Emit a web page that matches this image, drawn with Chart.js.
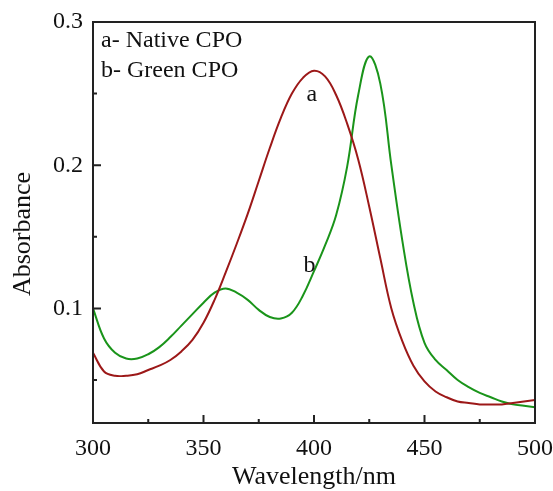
<!DOCTYPE html>
<html>
<head>
<meta charset="utf-8">
<script src="https://cdn.jsdelivr.net/npm/chart.js@4"></script>
<style>
  body { margin: 0; background: #fff; }
  #wrap { width: 553px; height: 491px; }
</style>
</head>
<body>
<div id="wrap"><canvas id="mygraph" width="553" height="491"></canvas></div>
<script>
// wavelength (nm), every 5 nm
let wavelength = [300,305,310,315,320,325,330,335,340,345,350,355,360,365,370,375,380,385,390,395,
                  400,405,410,415,420,425,430,435,440,445,450,455,460,465,470,475,480,485,490,495,500];
// a- Native CPO
let nativeCPO = [0.069,0.056,0.053,0.053,0.054,0.057,0.060,0.064,0.070,0.078,0.090,0.106,0.125,0.145,0.166,0.189,0.212,0.233,0.250,0.261,
                 0.266,0.262,0.249,0.229,0.204,0.171,0.135,0.100,0.077,0.060,0.049,0.042,0.038,0.035,0.034,0.033,0.033,0.033,0.034,0.035,0.036];
// b- Green CPO
let greenCPO = [0.100,0.079,0.069,0.065,0.065,0.068,0.073,0.080,0.088,0.096,0.104,0.111,0.114,0.111,0.106,0.099,0.094,0.093,0.097,0.109,
                0.126,0.144,0.165,0.199,0.249,0.276,0.257,0.200,0.147,0.104,0.076,0.064,0.057,0.050,0.045,0.041,0.038,0.035,0.033,0.032,0.031];

let xTicks = [300,350,400,450,500];
let xMinor = [325,375,425,475];
let yTicks = [0.1,0.2,0.3];
let yMinor = [0.05,0.15,0.25];

let legendLines = ["a- Native CPO", "b- Green CPO"];
// curve labels placed at data coordinates
let curveLabels = [
  {text:"a", x:399, y:0.249},
  {text:"b", x:398, y:0.1295}
];

var serif = "'Liberation Serif', 'Times New Roman', serif";

function pts(ys) {
  return wavelength.map(function(w, i) { return {x:w, y:ys[i]}; });
}

// box, inward ticks, y title, legend text and curve labels
var frame = {
  id: 'frame',
  afterDraw: function(chart) {
    var ctx = chart.ctx;
    var a = chart.chartArea;
    var xs = chart.scales.x, ys = chart.scales.y;
    ctx.save();
    ctx.strokeStyle = '#222';
    ctx.lineWidth = 2;
    ctx.strokeRect(a.left, a.top, a.right - a.left, a.bottom - a.top);
    ctx.beginPath();
    xTicks.forEach(function(v) {
      var px = xs.getPixelForValue(v);
      ctx.moveTo(px, a.bottom); ctx.lineTo(px, a.bottom - 8);
    });
    xMinor.forEach(function(v) {
      var px = xs.getPixelForValue(v);
      ctx.moveTo(px, a.bottom); ctx.lineTo(px, a.bottom - 4);
    });
    yTicks.forEach(function(v) {
      var py = ys.getPixelForValue(v);
      ctx.moveTo(a.left, py); ctx.lineTo(a.left + 8, py);
    });
    yMinor.forEach(function(v) {
      var py = ys.getPixelForValue(v);
      ctx.moveTo(a.left, py); ctx.lineTo(a.left + 4, py);
    });
    ctx.stroke();

    ctx.fillStyle = '#111';
    ctx.font = '26px ' + serif;
    ctx.textAlign = 'center';
    ctx.textBaseline = 'middle';
    ctx.translate(23, 234);
    ctx.rotate(-Math.PI / 2);
    ctx.fillText('Absorbance', 0, 0);
    ctx.setTransform(1, 0, 0, 1, 0, 0);

    ctx.font = '24px ' + serif;
    ctx.textAlign = 'left';
    legendLines.forEach(function(t, i) {
      ctx.fillText(t, a.left + 8, a.top + 19 + i * 30);
    });
    ctx.textAlign = 'center';
    curveLabels.forEach(function(l) {
      ctx.fillText(l.text, xs.getPixelForValue(l.x), ys.getPixelForValue(l.y));
    });
    ctx.restore();
  }
};

var ctx = document.getElementById("mygraph");

var mygraph = new Chart(ctx, {
  type: 'line',
  data: {
    datasets: [
      {
        data: pts(nativeCPO),
        label: "a- Native CPO",
        borderColor: "#9c1818",
        borderWidth: 2,
        pointRadius: 0,
        tension: 0.4,
        fill: false
      },
      {
        data: pts(greenCPO),
        label: "b- Green CPO",
        borderColor: "#1a941a",
        borderWidth: 2,
        pointRadius: 0,
        tension: 0.4,
        fill: false
      }
    ]
  },
  options: {
    responsive: false,
    animation: false,
    layout: { padding: { top: 22, right: 18, left: 0, bottom: 0 } },
    plugins: { legend: { display: false }, tooltip: { enabled: false } },
    scales: {
      x: {
        type: 'linear',
        min: 300, max: 500,
        afterBuildTicks: function(s) { s.ticks = xTicks.map(function(v) { return {value:v}; }); },
        afterFit: function(s) { s.height = 68; s.paddingLeft = 0; s.paddingRight = 0; },
        grid: { display: true, drawOnChartArea: false, drawTicks: false },
        border: { display: false },
        ticks: { color: '#111', padding: 11, maxRotation: 0, font: { family: serif, size: 24 } },
        title: { display: true, text: 'Wavelength/nm', color: '#111', padding: { top: 0, bottom: -2 },
                 font: { family: serif, size: 26 } }
      },
      y: {
        min: 0.02, max: 0.3,
        afterBuildTicks: function(s) { s.ticks = yTicks.map(function(v) { return {value:v}; }); },
        afterFit: function(s) { s.width = 93; s.paddingTop = 0; s.paddingBottom = 0; },
        grid: { display: true, drawOnChartArea: false, drawTicks: false },
        border: { display: false },
        ticks: { color: '#111', padding: 10, font: { family: serif, size: 24 },
                 callback: function(v) { return v.toFixed(1); } }
      }
    }
  },
  plugins: [frame]
});
</script>
</body>
</html>
